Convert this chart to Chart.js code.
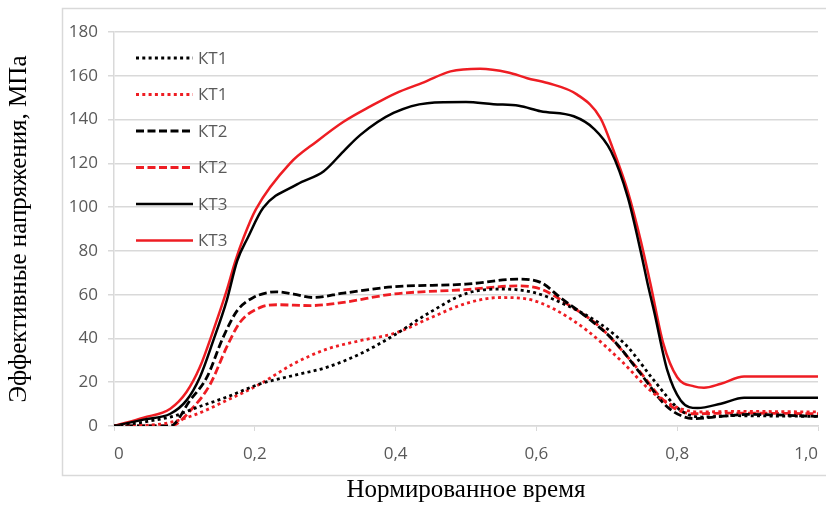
<!DOCTYPE html>
<html lang="ru">
<head>
    <meta charset="UTF-8">
    <title>Эффективные напряжения</title>
    <script src="https://cdn.jsdelivr.net/npm/chart.js"></script>
    <style>
        html, body { margin: 0; padding: 0; background: #fff; }
        #wrap { width: 826px; height: 506px; }
    </style>
</head>
<body>
    <div id="wrap"><canvas id="stressChart" width="826" height="506"></canvas></div>

    <script>
        // подписи осей
        const xTickLabels = ['0', '0,2', '0,4', '0,6', '0,8', '1,0'];
        const yTickValues = [0, 20, 40, 60, 80, 100, 120, 140, 160, 180];

        // КТ1 (точки), чёрная
        const kt1BlackX = [0, 0.042, 0.089, 0.113, 0.16, 0.208, 0.255, 0.303, 0.35, 0.397, 0.445, 0.5, 0.549, 0.596, 0.644, 0.691, 0.73, 0.767, 0.805, 0.834, 0.88, 0.92, 1.0];
        const kt1BlackY = [0, 1.8, 4.9, 7.9, 13.2, 19.3, 23.1, 26.9, 33, 41.3, 51.2, 60.5, 62.6, 61, 55, 46.6, 36, 20.8, 7.1, 4.1, 4.7, 4.6, 4.4];
        // КТ1 (точки), красная
        const kt1RedX = [0, 0.065, 0.113, 0.16, 0.208, 0.255, 0.303, 0.35, 0.4, 0.45, 0.5, 0.549, 0.587, 0.625, 0.672, 0.72, 0.767, 0.805, 0.834, 0.88, 1.0];
        const kt1RedY = [0, 0.8, 4.9, 11.7, 19.3, 28.4, 35.2, 39, 42.5, 49.5, 56, 58.7, 58, 53.4, 43.6, 29.9, 14.8, 7.9, 6.4, 6.7, 6.4];
        // КТ2 (штрих), чёрная
        const kt2BlackX = [0, 0.08, 0.108, 0.132, 0.155, 0.175, 0.198, 0.231, 0.255, 0.283, 0.326, 0.397, 0.5, 0.573, 0.606, 0.634, 0.672, 0.71, 0.748, 0.786, 0.824, 0.862, 0.9, 1.0];
        const kt2BlackY = [0, 0, 11.7, 22.3, 40.5, 52.7, 58.7, 61.3, 60.3, 58.7, 60.7, 63.6, 64.8, 67.1, 65.6, 58.7, 49.6, 39, 23.9, 8.7, 3.4, 4.4, 5.3, 4.4];
        // КТ2 (штрих), красная
        const kt2RedX = [0, 0.08, 0.113, 0.137, 0.16, 0.179, 0.208, 0.231, 0.279, 0.326, 0.397, 0.5, 0.573, 0.606, 0.644, 0.691, 0.738, 0.786, 0.824, 0.881, 1.0];
        const kt2RedY = [0, 0, 8.7, 19.3, 36, 47.4, 54.2, 55.4, 55, 56.5, 60.3, 62.3, 64, 62.6, 55.7, 45, 28.4, 10.2, 5.6, 5.9, 5.6];
        // КТ3 (сплошная), чёрная
        const kt3BlackX = [0, 0.042, 0.08, 0.103, 0.122, 0.141, 0.16, 0.175, 0.19, 0.212, 0.26, 0.298, 0.326, 0.35, 0.397, 0.445, 0.5, 0.539, 0.575, 0.606, 0.653, 0.681, 0.706, 0.73, 0.748, 0.758, 0.767, 0.786, 0.805, 0.829, 0.862, 0.895, 1.0];
        const kt3BlackY = [0, 2.9, 5.6, 11.7, 22.3, 39, 57.2, 75.5, 86, 99.7, 110.4, 116.4, 125.5, 133, 143, 147.5, 148, 147, 146.3, 143.8, 141.5, 136, 125.5, 104.3, 80, 65, 52.7, 25.4, 11.7, 8.2, 10.2, 12.9, 12.9];
        // КТ3 (сплошная), красная
        const kt3RedX = [0, 0.042, 0.08, 0.103, 0.122, 0.141, 0.16, 0.172, 0.184, 0.2015, 0.25, 0.288, 0.326, 0.364, 0.4, 0.44, 0.478, 0.52, 0.56, 0.587, 0.616, 0.658, 0.691, 0.71, 0.73, 0.748, 0.762, 0.78, 0.8, 0.824, 0.838, 0.862, 0.895, 1.0];
        const kt3RedY = [0, 3.8, 7.9, 15.5, 26.9, 43.6, 61.8, 75, 86, 99, 120, 130, 139, 146, 152, 157, 162, 163.2, 161.5, 158.9, 156.7, 151.4, 140.7, 125.5, 107, 85, 65, 38, 22.3, 18.1, 17.5, 19.3, 22.6, 22.6];

        const RED = '#ee1d23';
        const BLACK = '#000000';
        const DOT = [3, 3.3];
        const DASH = [8, 3.5];

        function pts(xs, ys) {
            return xs.map((x, i) => ({ x: x, y: ys[i] }));
        }

        function series(label, xs, ys, color, dash) {
            return {
                label: label,
                data: pts(xs, ys),
                borderColor: color,
                backgroundColor: color,
                borderWidth: dash.length ? 2.8 : 2.5,
                borderDash: dash,
                pointRadius: 0,
                cubicInterpolationMode: 'monotone',
                fill: false
            };
        }

        // рамка вокруг области графика
        const framePlugin = {
            id: 'frame',
            beforeDraw(chart) {
                const ctx = chart.ctx;
                ctx.save();
                ctx.fillStyle = '#fff';
                ctx.fillRect(0, 0, chart.width, chart.height);
                ctx.strokeStyle = '#d9d9d9';
                ctx.lineWidth = 1.5;
                ctx.strokeRect(62.5, 8.5, 800, 467);
                ctx.restore();
            }
        };

        // легенда внутри области графика
        const insideLegend = {
            id: 'insideLegend',
            afterDatasetsDraw(chart) {
                const ctx = chart.ctx;
                const left = chart.chartArea.left;
                ctx.save();
                chart.data.datasets.forEach((ds, i) => {
                    const y = 58 + i * 36.5;
                    ctx.beginPath();
                    ctx.strokeStyle = ds.borderColor;
                    ctx.lineWidth = ds.borderWidth;
                    ctx.setLineDash(ds.borderDash);
                    ctx.moveTo(left + 22, y);
                    ctx.lineTo(left + 79, y);
                    ctx.stroke();
                    ctx.setLineDash([]);
                    ctx.fillStyle = '#595959';
                    ctx.font = '17px "Open Sans"';
                    ctx.textBaseline = 'middle';
                    ctx.fillText(ds.label, left + 84, y + 1);
                });
                ctx.restore();
            }
        };

        new Chart(document.getElementById('stressChart'), {
            type: 'line',
            data: {
                datasets: [
                    series('КТ1', kt1BlackX, kt1BlackY, BLACK, DOT),
                    series('КТ1', kt1RedX, kt1RedY, RED, DOT),
                    series('КТ2', kt2BlackX, kt2BlackY, BLACK, DASH),
                    series('КТ2', kt2RedX, kt2RedY, RED, DASH),
                    series('КТ3', kt3BlackX, kt3BlackY, BLACK, []),
                    series('КТ3', kt3RedX, kt3RedY, RED, [])
                ]
            },
            options: {
                responsive: false,
                animation: false,
                layout: {
                    autoPadding: false,
                    padding: { top: 32, right: 8, left: 0, bottom: 0 }
                },
                plugins: {
                    legend: { display: false },
                    tooltip: { enabled: false }
                },
                scales: {
                    x: {
                        type: 'linear',
                        min: 0,
                        max: 1,
                        ticks: {
                            stepSize: 0.2,
                            color: '#595959',
                            font: { family: 'Open Sans', size: 17 },
                            padding: 13,
                            maxRotation: 0,
                            align: 'inner',
                            callback: (v, i) => xTickLabels[i]
                        },
                        grid: {
                            drawOnChartArea: false,
                            color: '#d9d9d9',
                            tickLength: 5
                        },
                        border: { color: '#d9d9d9', width: 1.5 },
                        title: {
                            display: true,
                            text: 'Нормированное время',
                            color: '#000',
                            font: { family: 'Liberation Serif', size: 25 },
                            padding: { top: 0, bottom: 1 }
                        },
                        afterFit(scale) {
                            scale.height = 80;
                            scale.paddingLeft = 0;
                            scale.paddingRight = 0;
                        }
                    },
                    y: {
                        min: 0,
                        max: 180,
                        afterBuildTicks(scale) {
                            scale.ticks = yTickValues.map(v => ({ value: v }));
                        },
                        ticks: {
                            color: '#595959',
                            font: { family: 'Open Sans', size: 17 },
                            padding: 10
                        },
                        grid: {
                            color: '#d9d9d9',
                            lineWidth: 1.5,
                            tickLength: 6
                        },
                        border: { color: '#d9d9d9', width: 1.5 },
                        title: {
                            display: true,
                            text: 'Эффективные напряжения, МПа',
                            color: '#000',
                            font: { family: 'Liberation Serif', size: 25 },
                            padding: { top: 4, bottom: 0 }
                        },
                        afterFit(scale) {
                            scale.width = 114;
                            scale.paddingTop = 0;
                            scale.paddingBottom = 0;
                        }
                    }
                }
            },
            plugins: [framePlugin, insideLegend]
        });
    </script>
</body>
</html>
